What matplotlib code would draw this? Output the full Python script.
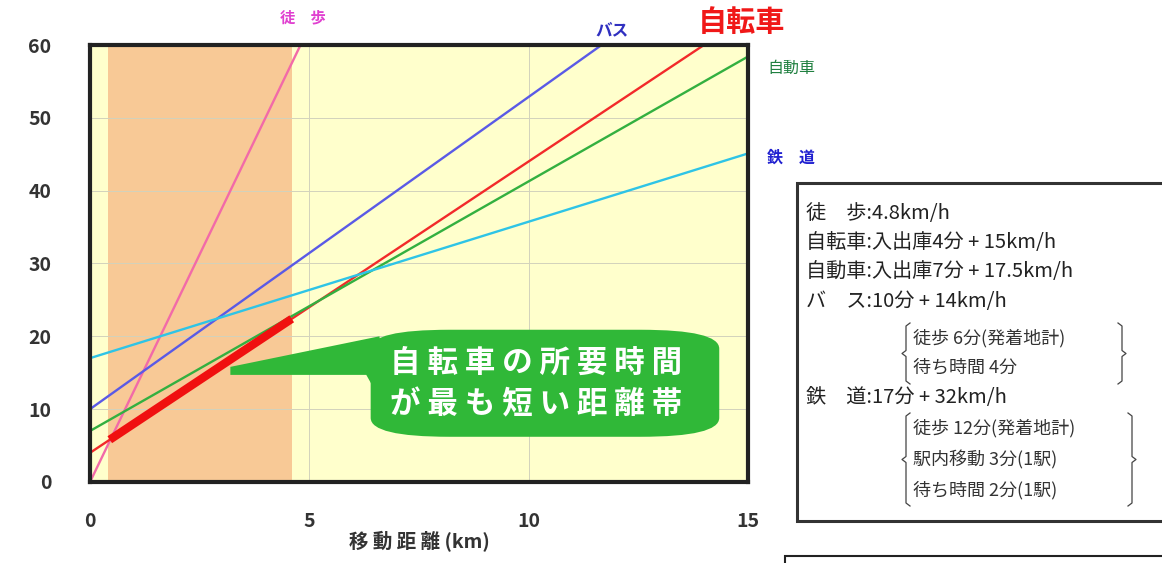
import matplotlib.pyplot as plt
from matplotlib.patches import FancyBboxPatch, Polygon, Rectangle

plt.rcParams['font.family'] = ['Noto Sans CJK JP', 'DejaVu Sans']

# travel time lines (distance km -> minutes), start/end
modes = ["徒歩", "バス", "自転車", "自動車", "鉄道"]
x_start = [0, 0, 0, 0, 0]
x_end = [4.8, 15, 15, 15, 15]
y_start = [0, 10, 4, 7, 17]
y_end = [60, 74.3, 64, 58.4, 45.1]
line_colors = ["#F26AA8", "#5A5AE6", "#F22A2A", "#33B040", "#2EC4E6"]

# range where bicycle is fastest
band_x = [0.4, 4.6]
bike_best_x = [0.45, 4.6]
bike_best_y = [5.8, 22.4]

x_ticks = [0, 5, 10, 15]
y_ticks = [0, 10, 20, 30, 40, 50, 60]

legend_lines = [
    "徒　歩:4.8km/h",
    "自転車:入出庫4分 + 15km/h",
    "自動車:入出庫7分 + 17.5km/h",
    "バ　ス:10分 + 14km/h",
]
bus_sub = ["徒歩 6分(発着地計)", "待ち時間 4分"]
rail_line = "鉄　道:17分 + 32km/h"
rail_sub = ["徒歩 12分(発着地計)", "駅内移動 3分(1駅)", "待ち時間 2分(1駅)"]

fig = plt.figure(figsize=(11.62, 5.63), dpi=100)
ax = fig.add_axes([0.0775, 0.144, 0.566, 0.776])
ax.set_facecolor("#FFFFCC")
ax.set_xlim(0, 15)
ax.set_ylim(0, 60)

ax.axvspan(band_x[0], band_x[1], color="#F8C490", alpha=0.9, zorder=1, lw=0)
ax.grid(True, color="#D2D2BC", lw=0.7, zorder=1.5)
ax.set_axisbelow(False)

for xs, xe, ys, ye, c in zip(x_start, x_end, y_start, y_end, line_colors):
    ax.plot([xs, xe], [ys, ye], color=c, lw=1.7, zorder=3, clip_on=True)

ax.plot(bike_best_x, bike_best_y, color="#F01010", lw=6, solid_capstyle="butt", zorder=4)

for s in ax.spines.values():
    s.set_linewidth(3)
    s.set_color("#222222")
    s.set_zorder(5)

ax.set_xticks(x_ticks)
ax.set_yticks(y_ticks)
ax.tick_params(length=0, labelsize=14, colors="#333333")
ax.tick_params(axis="x", pad=22)
ax.tick_params(axis="y", pad=28)
for lab in ax.get_xticklabels() + ax.get_yticklabels():
    lab.set_fontweight("bold")
ax.set_xlabel("移 動 距 離 (km)", fontsize=14, color="#333333", labelpad=0, fontweight="bold")

# line labels outside the plot
ax.text(4.85, 63.8, "徒　歩", color="#E040D0", fontsize=11, ha="center", va="center",
        fontweight="bold", clip_on=False)
ax.text(11.9, 62.0, "バス", color="#3030C0", fontsize=12, ha="center", va="center",
        fontweight="bold", clip_on=False)
ax.text(14.85, 63.2, "自転車", color="#F01818", fontsize=21, ha="center", va="center",
        fontweight="bold", clip_on=False)
ax.text(15.45, 56.8, "自動車", color="#208040", fontsize=11.5, ha="left", va="center",
        clip_on=False)
ax.text(15.45, 44.5, "鉄　道", color="#2020D0", fontsize=11.5, ha="left", va="center",
        fontweight="bold", clip_on=False)

# green callout
green = "#30B838"
pointer = Polygon([[3.2, 15.8], [6.6, 20.0], [6.9, 7.0], [6.6, 11.5], [6.3, 14.7], [3.2, 14.7]],
                  closed=True, facecolor=green, edgecolor="none", zorder=6)
ax.add_patch(pointer)
box = FancyBboxPatch((6.4, 6.2), 7.95, 14.7, boxstyle="round,pad=0,rounding_size=1.8",
                     mutation_aspect=60 / 15 * 0.36, facecolor=green, edgecolor="none", zorder=6)
ax.add_patch(box)
ax.text(6.85, 16.3, "自 転 車 の 所 要 時 間", color="white", fontsize=22,
        fontweight="bold", ha="left", va="center", zorder=7)
ax.text(6.85, 10.6, "が 最 も 短 い 距 離 帯", color="white", fontsize=22,
        fontweight="bold", ha="left", va="center", zorder=7)

# legend box on the right
fig.patches.append(Rectangle((797 / 1162, 1 - 521 / 563), 0.32, 338 / 563,
                             transform=fig.transFigure, facecolor="white",
                             edgecolor="#333333", lw=2.2, zorder=1))
fs = 14.5
ypix = [213, 242, 272, 301]
for t, yp in zip(legend_lines, ypix):
    fig.text(806 / 1162, 1 - yp / 563, t, fontsize=fs, color="#222222", va="center")
for t, yp in zip(bus_sub, [338, 367]):
    fig.text(913 / 1162, 1 - yp / 563, t, fontsize=13, color="#333333", va="center")
fig.text(806 / 1162, 1 - 398 / 563, rail_line, fontsize=fs, color="#222222", va="center")
for t, yp in zip(rail_sub, [428, 460, 490]):
    fig.text(913 / 1162, 1 - yp / 563, t, fontsize=13, color="#333333", va="center")


def brace(x0, x1, ytop, ybot):
    # simple left/right brackets with a notch in the middle
    ym = (ytop + ybot) / 2
    for xe, d in ((x0, 1), (x1, -1)):
        xs = [xe + 4 * d, xe, xe, xe - 4 * d, xe, xe, xe + 4 * d]
        ys = [ytop, ytop + 3, ym - 3, ym, ym + 3, ybot - 3, ybot]
        fig.lines.append(plt.Line2D([v / 1162 for v in xs], [1 - v / 563 for v in ys],
                                    transform=fig.transFigure, color="#444444", lw=0.9))


brace(906, 1122, 323, 384)
brace(906, 1132, 413, 506)

# second box, cut off at the bottom
fig.patches.append(Rectangle((785 / 1162, -0.05), 0.4, 0.05 + 1 - 556 / 563,
                             transform=fig.transFigure, facecolor="white",
                             edgecolor="#222222", lw=1.5))

fig.savefig("out.png", dpi=100)
